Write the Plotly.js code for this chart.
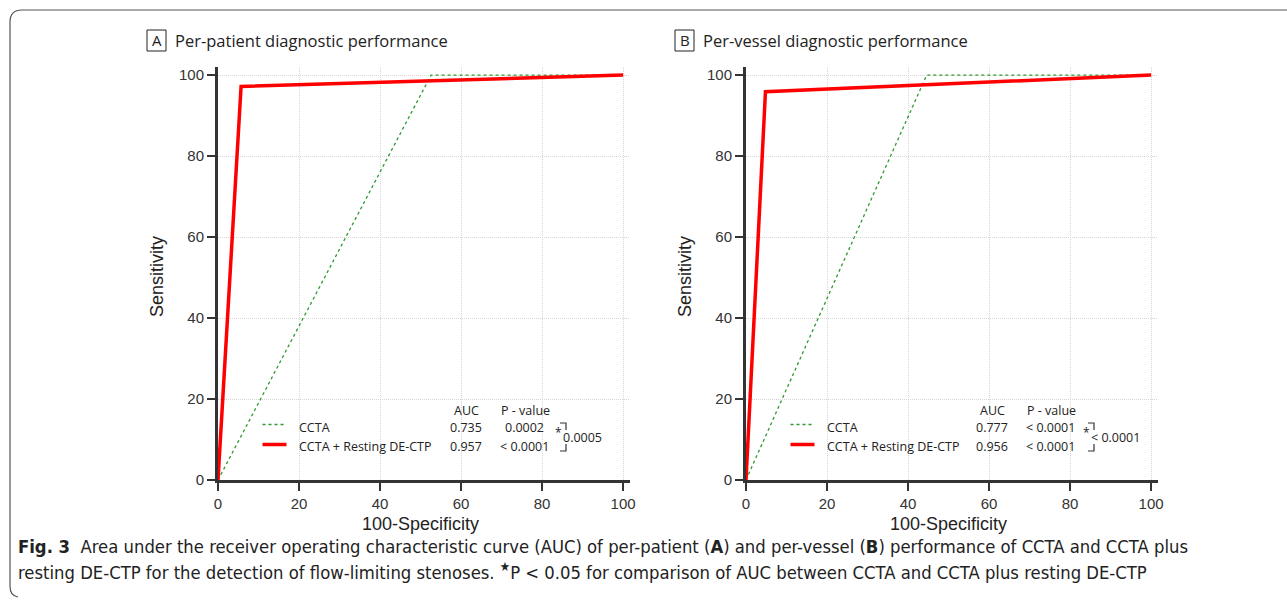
<!DOCTYPE html>
<html>
<head>
<meta charset="utf-8">
<script src="https://cdn.plot.ly/plotly-3.0.1.min.js"></script>
<style>html,body{margin:0;padding:0;background:#fff;}#chart{width:1287px;height:603px;}</style>
</head>
<body>
<div id="chart"></div>
<script>
// ---- data ----
const seriesNames = ["CCTA", "CCTA + Resting DE-CTP"];
// Panel A: per-patient
const fprA_ccta = [0, 52.6, 100];
const sensA_ccta = [0, 100, 100];
const fprA_comb = [0, 5.7, 100];
const sensA_comb = [0, 97.2, 100];
const aucA = ["0.735", "0.957"];
const pA = ["0.0002", "< 0.0001"];
const pCompA = "0.0005";
// Panel B: per-vessel
const fprB_ccta = [0, 44.6, 100];
const sensB_ccta = [0, 100, 100];
const fprB_comb = [0, 4.8, 100];
const sensB_comb = [0, 95.9, 100];
const aucB = ["0.777", "0.956"];
const pB = ["< 0.0001", "< 0.0001"];
const pCompB = "< 0.0001";
const tickVals = [0, 20, 40, 60, 80, 100];
const panelLetters = ["A", "B"];
const panelTitles = ["Per-patient diagnostic performance", "Per-vessel diagnostic performance"];
const xTitle = "100-Specificity";
const yTitle = "Sensitivity";

// ---- layout helpers ----
const W = 1287, H = 603;
const px = x => x / W;
const py = y => 1 - y / H;
const GREEN = "#2e9a2e", RED = "#ff0000";
const panelX0 = [218, 746];
const axisPxLen = 412;
const plotTop = 67, plotBot = 480;

const traces = [
  {x: fprA_ccta, y: sensA_ccta, xaxis: "x", yaxis: "y", mode: "lines", name: seriesNames[0], line: {color: GREEN, width: 1.3, dash: "dot"}},
  {x: fprA_comb, y: sensA_comb, xaxis: "x", yaxis: "y", mode: "lines", name: seriesNames[1], line: {color: RED, width: 3.5}},
  {x: fprB_ccta, y: sensB_ccta, xaxis: "x2", yaxis: "y2", mode: "lines", name: seriesNames[0], line: {color: GREEN, width: 1.3, dash: "dot"}},
  {x: fprB_comb, y: sensB_comb, xaxis: "x2", yaxis: "y2", mode: "lines", name: seriesNames[1], line: {color: RED, width: 3.5}}
];

const tickFont = {family: "Liberation Sans, Arial, sans-serif", size: 15, color: "#333"};
function xAx(i) {
  return {
    domain: [px(panelX0[i]), px(panelX0[i] + axisPxLen)],
    anchor: i === 0 ? "y" : "y2",
    range: [0, 101.7], tickvals: tickVals, ticktext: tickVals.map(String),
    showline: true, linewidth: 3, linecolor: "#333",
    ticks: "outside", ticklen: 8, tickwidth: 2, tickcolor: "#333",
    showgrid: true, gridcolor: "#d6d6d6", griddash: "1px,1px", gridwidth: 1,
    zeroline: false, tickfont: tickFont, fixedrange: true
  };
}
function yAx(i) {
  return {
    domain: [py(plotBot), py(plotTop)],
    anchor: i === 0 ? "x" : "x2",
    range: [0, 102], tickvals: tickVals, ticktext: tickVals.map(String),
    showline: true, linewidth: 3, linecolor: "#333",
    ticks: "outside", ticklen: 8, tickwidth: 2, tickcolor: "#333",
    showgrid: true, gridcolor: "#d6d6d6", griddash: "1px,1px", gridwidth: 1,
    zeroline: false, tickfont: tickFont, fixedrange: true
  };
}

const annFont = {family: "Open Sans, Noto Sans, sans-serif", size: 12.5, color: "#222"};
const annotations = [];
const shapes = [];
function ann(x, y, text, opts) {
  annotations.push(Object.assign({xref: "paper", yref: "paper", x: px(x), y: py(y), text: text, showarrow: false,
    xanchor: "center", yanchor: "middle", font: annFont}, opts || {}));
}
function line(x0, y0, x1, y1, color, width, dash) {
  shapes.push({type: "line", xref: "paper", yref: "paper", x0: px(x0), y0: py(y0), x1: px(x1), y1: py(y1),
    line: {color: color, width: width, dash: dash || "solid"}});
}

const aucs = [aucA, aucB], ps = [pA, pB], comps = [pCompA, pCompB];
for (let i = 0; i < 2; i++) {
  const x0 = panelX0[i];
  // panel title: letter in a box
  shapes.push({type: "rect", xref: "paper", yref: "paper",
    x0: px(x0 - 71), x1: px(x0 - 52), y0: py(30), y1: py(51), line: {color: "#222", width: 1}});
  ann(x0 - 61.5, 40.5, panelLetters[i], {font: {family: "Open Sans, sans-serif", size: 15, color: "#222"}});
  ann(x0 - 45, 40.5, panelTitles[i], {xanchor: "left", font: {family: "Open Sans, sans-serif", size: 16.5, color: "#222"}});
  // axis titles
  ann(x0 + 202, 524, xTitle, {font: {family: "Liberation Sans, Arial, sans-serif", size: 18, color: "#222"}});
  ann(x0 - 61, 277, yTitle, {textangle: -90, font: {family: "Liberation Sans, Arial, sans-serif", size: 18, color: "#222"}});
  // legend table
  const o = i === 0 ? 0 : -2;
  ann(x0 + 248.5 + o, 410, "AUC");
  ann(x0 + 307 + o, 410, "P - value");
  line(x0 + 44.5, 424.5, x0 + 68.5, 424.5, GREEN, 1.3, "dot");
  line(x0 + 44.5, 444.5, x0 + 68.5, 444.5, RED, 3.5);
  ann(x0 + 79, 427.5, seriesNames[0], {xanchor: "left"});
  ann(x0 + 79, 446, seriesNames[1], {xanchor: "left"});
  ann(x0 + 248 + o, 427.5, aucs[i][0]);
  ann(x0 + 248 + o, 446, aucs[i][1]);
  ann(x0 + 306 + o, 427.5, ps[i][0]);
  ann(x0 + 306 + o, 446, ps[i][1]);
  // bracket
  const bx = x0 + 342;
  shapes.push({type: "path", xref: "paper", yref: "paper",
    path: `M ${px(bx)},${py(423)} L ${px(bx + 6)},${py(423)} L ${px(bx + 6)},${py(430)}`,
    line: {color: "#333", width: 1.2}});
  shapes.push({type: "path", xref: "paper", yref: "paper",
    path: `M ${px(bx)},${py(451)} L ${px(bx + 6)},${py(451)} L ${px(bx + 6)},${py(444)}`,
    line: {color: "#333", width: 1.2}});
  ann(bx - 2, 432, "*", {font: {family: "Open Sans, sans-serif", size: 12, color: "#222"}});
  ann(bx + 1, 437.5, comps[i], {xanchor: "left"});
}

// caption
const capFont = {family: "Liberation Sans Narrow, DejaVu Sans Condensed, Open Sans, sans-serif", size: 18.3, color: "#222"};
ann(16, 546, "<b>Fig. 3</b>  Area under the receiver operating characteristic curve (AUC) of per-patient (<b>A</b>) and per-vessel (<b>B</b>) performance of CCTA and CCTA plus",
  {xanchor: "left", font: capFont});
ann(16, 571, "resting DE-CTP for the detection of flow-limiting stenoses. <sup>★</sup>P < 0.05 for comparison of AUC between CCTA and CCTA plus resting DE-CTP",
  {xanchor: "left", font: capFont});

// frame
shapes.push({type: "path", xref: "paper", yref: "paper",
  path: `M ${px(1287)},${py(10)} L ${px(22)},${py(10)} Q ${px(10)},${py(10)} ${px(10)},${py(22)} L ${px(10)},${py(586)} Q ${px(10)},${py(596)} ${px(18)},${py(597)}`,
  line: {color: "#555", width: 1.2}});

const layout = {
  width: W, height: H, margin: {l: 0, r: 0, t: 0, b: 0},
  paper_bgcolor: "#fff", plot_bgcolor: "#fff", showlegend: false,
  xaxis: xAx(0), yaxis: yAx(0), xaxis2: xAx(1), yaxis2: yAx(1),
  annotations: annotations, shapes: shapes
};
Plotly.newPlot("chart", traces, layout, {displayModeBar: false, staticPlot: true});
</script>
</body>
</html>
